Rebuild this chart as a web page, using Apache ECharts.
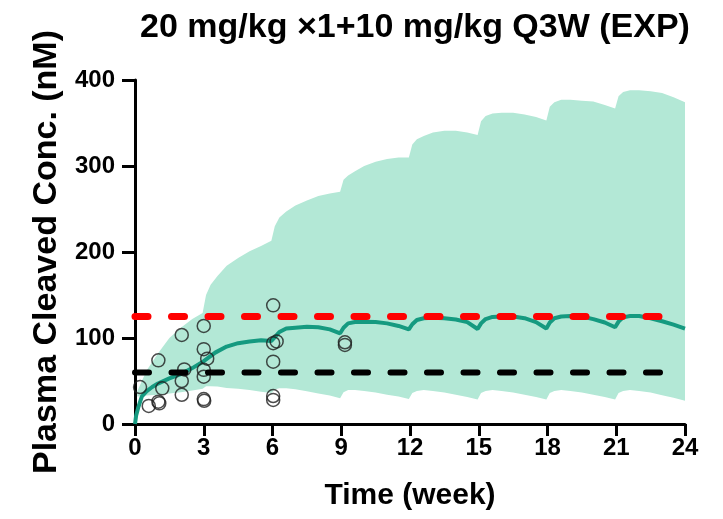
<!DOCTYPE html>
<html>
<head>
<meta charset="utf-8">
<script src="https://cdn.jsdelivr.net/npm/echarts@6/dist/echarts.min.js"></script>
<style>
  html, body { margin: 0; padding: 0; background: #fff; }
  #chart { width: 723px; height: 519px; }
</style>
</head>
<body>
<div id="chart"></div>
<script>
// Simulated PK profile: 20 mg/kg loading dose, then 10 mg/kg every 3 weeks
const chartTitle = '20 mg/kg ×1+10 mg/kg Q3W (EXP)';
const xTitle = 'Time (week)';
const yTitle = 'Plasma Cleaved Conc. (nM)';

// Prediction interval (lower / upper bounds), weeks
const bandTime = [0.1, 0.5, 1, 1.5, 2, 2.5, 2.95, 3.1, 3.3, 3.6, 4, 4.5, 5, 5.5, 5.95,
  6.1, 6.3, 6.6, 7, 7.5, 8, 8.5, 8.95, 9.1, 9.3, 9.6, 10, 10.5, 11, 11.5, 11.95,
  12.1, 12.3, 12.6, 13, 13.5, 14, 14.5, 14.95, 15.1, 15.3, 15.6, 16, 16.5, 17, 17.5, 17.95,
  18.1, 18.3, 18.6, 19, 19.5, 20, 20.5, 20.95, 21.1, 21.3, 21.6, 22, 22.5, 23, 23.5, 24];
const bandHigh = [38, 62, 82, 100, 112, 122, 129, 150, 162, 172, 184, 193, 201, 207, 213,
  230, 240, 247, 254, 260, 265, 268, 270, 284, 289, 294, 300, 305, 308, 310, 310,
  325, 331, 335, 339, 341, 341, 339, 336, 352, 358, 361, 362, 362, 360, 357, 353,
  369, 374, 377, 377, 376, 375, 371, 367, 381, 386, 388, 388, 387, 385, 380, 374];
const bandLow = [32, 33, 34, 35.5, 37, 39, 41, 44, 44, 43.5, 42, 41, 39.5, 37.5, 36,
  40, 41.5, 41.5, 40.5, 38, 35.5, 33, 30, 37, 39.5, 39.5, 38.5, 36.5, 34, 32, 29,
  36, 38.5, 39.5, 38.5, 36.5, 34, 31.5, 28.5, 36, 38.5, 39.5, 38.5, 36.5, 34, 31.5, 28.5,
  36, 38.5, 39.5, 38.5, 36.5, 34, 31.5, 28.5, 36, 38.5, 39.5, 38.5, 36.5, 33.5, 30.5, 27];

// Median prediction
const medTime = [0, 0.05, 0.15, 0.3, 0.5, 0.75, 1, 1.5, 2, 2.5, 3, 3.5, 4, 4.5, 5, 5.5, 5.95,
  6.1, 6.3, 6.6, 7, 7.5, 8, 8.5, 8.95, 9.1, 9.3, 9.6, 10, 10.5, 11, 11.5, 11.95,
  12.1, 12.3, 12.6, 13, 13.5, 14, 14.5, 14.95, 15.1, 15.3, 15.6, 16, 16.5, 17, 17.5, 17.95,
  18.1, 18.3, 18.6, 19, 19.5, 20, 20.5, 20.95, 21.1, 21.3, 21.6, 22, 22.5, 23, 23.5, 24];
const medConc = [0, 10, 20, 32, 38, 43, 47, 53, 58, 65, 73, 83, 90, 94, 96, 97.5, 96.5,
  101, 107, 111, 112, 113, 112.5, 110, 105.5, 112, 117, 118.5, 119, 118.5, 117, 114, 110,
  116, 121, 123, 123.5, 123, 121.5, 118.5, 110.5, 117, 122, 124.5, 125, 125, 123, 118.5, 111,
  118, 123, 125, 125.5, 125, 122, 118, 112.5, 119, 124, 125.5, 125.5, 123, 119.5, 115.5, 111];

// Observed concentrations
const obsTime = [0.22, 0.6, 1.02, 1.02, 1.06, 1.19, 2.04, 2.15, 2.04, 2.04,
  3.0, 3.0, 3.15, 3.0, 3.0, 3.0, 3.02, 6.03, 6.03, 6.18, 6.03, 6.03, 6.03, 9.16, 9.16];
const obsConc = [43, 21, 74, 26, 24, 41.5, 103.5, 63.5, 50, 34,
  114, 87, 76, 63, 55, 29, 27, 138, 94, 96, 72.5, 32.5, 28, 95, 92];

// Reference levels
const refTime = [0, 23];
const refUpper = 125;
const refLower = 60;

const xTicks = { min: 0, max: 24, interval: 3 };
const yTicks = { min: 0, max: 400, interval: 100 };

const zip = (a, b) => a.map((v, i) => [v, b[i]]);
const FONT = 'Liberation Sans, Arial, sans-serif';

// One row per band time: [t, low, high]
const bandRows = bandTime.map((t, i) => [t, bandLow[i], bandHigh[i]]);

// Draws the whole interval as a single filled polygon through the axis scales
function renderBand(params, api) {
  if (params.dataIndex !== 0) return null;
  const upper = bandRows.map(r => api.coord([r[0], r[2]]));
  const lower = bandRows.slice().reverse().map(r => api.coord([r[0], r[1]]));
  return {
    type: 'polygon',
    shape: { points: upper.concat(lower) },
    style: { fill: '#b3e8d6', stroke: null }
  };
}

const chart = echarts.init(document.getElementById('chart'));
chart.setOption({
  animation: false,
  backgroundColor: '#fff',
  title: {
    text: chartTitle,
    left: 410,
    top: 6,
    textAlign: 'center',
    textStyle: { fontFamily: FONT, fontWeight: 'bold', fontSize: 34, color: '#000' }
  },
  grid: { left: 135, right: 38, top: 80, bottom: 95 },
  xAxis: {
    type: 'value',
    min: xTicks.min, max: xTicks.max, interval: xTicks.interval,
    name: xTitle,
    nameLocation: 'middle',
    nameGap: 57,
    nameTextStyle: { fontFamily: FONT, fontWeight: 'bold', fontSize: 30, color: '#000' },
    axisLine: { lineStyle: { color: '#000', width: 3 } },
    axisTick: { length: 12, lineStyle: { color: '#000', width: 3 } },
    axisLabel: { margin: 12, fontFamily: FONT, fontWeight: 'bold', fontSize: 24, color: '#000' },
    splitLine: { show: false }
  },
  yAxis: {
    type: 'value',
    min: yTicks.min, max: yTicks.max, interval: yTicks.interval,
    name: yTitle,
    nameLocation: 'middle',
    nameGap: 70,
    nameTextStyle: { fontFamily: FONT, fontWeight: 'bold', fontSize: 34, color: '#000' },
    axisLine: { lineStyle: { color: '#000', width: 3 } },
    axisTick: { length: 13, lineStyle: { color: '#000', width: 3 } },
    axisLabel: { margin: 20, fontFamily: FONT, fontWeight: 'bold', fontSize: 24, color: '#000' },
    splitLine: { show: false }
  },
  series: [
    {
      name: 'PI', type: 'custom', silent: true,
      data: bandRows,
      encode: { x: 0, y: [1, 2] },
      renderItem: renderBand,
      z: 1
    },
    {
      name: 'Median', type: 'line', silent: true,
      data: zip(medTime, medConc), symbol: 'none',
      lineStyle: { color: '#159a80', width: 4 }, z: 3
    },
    {
      name: 'Observed', type: 'scatter', silent: true,
      data: zip(obsTime, obsConc),
      symbol: 'circle', symbolSize: 13,
      itemStyle: { color: 'rgba(0,0,0,0)', borderColor: '#1e1e1e', borderWidth: 1.5 }, z: 4
    },
    {
      name: 'Lower ref', type: 'line', silent: true,
      data: refTime.map(t => [t, refLower]), symbol: 'none',
      lineStyle: { color: '#000', width: 6, type: [14, 22.5], cap: 'round' }, z: 5
    },
    {
      name: 'Upper ref', type: 'line', silent: true,
      data: refTime.map(t => [t, refUpper]), symbol: 'none',
      lineStyle: { color: '#ff0000', width: 7, type: [13, 23.5], cap: 'round' }, z: 5
    }
  ]
});
</script>
</body>
</html>
